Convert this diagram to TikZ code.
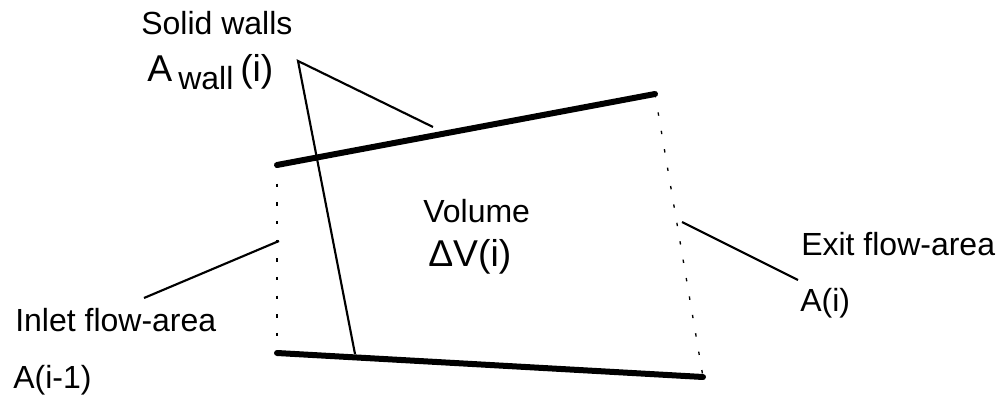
\documentclass[tikz,border=0pt]{standalone}
\usepackage{fontspec}
\setmainfont{Liberation Sans}
\usetikzlibrary{positioning}
\begin{document}
\begin{tikzpicture}[
    x=0.75pt, y=-0.75pt,
    label/.style={anchor=base west, inner sep=0pt, font=\fontsize{24}{28}\selectfont},
    biglabel/.style={label, font=\fontsize{28}{32}\selectfont},
    wall/.style={line width=4.5pt, line cap=round},
    leader/.style={line width=1.6pt},
    opening/.style={line width=1pt, dash pattern=on 2.5pt off 11.5pt}
]
    \useasboundingbox (0,0) rectangle (1002,398);
    % wall and opening corners
    \coordinate (tl) at (277,165);
    \coordinate (tr) at (655,94);
    \coordinate (bl) at (277,353);
    \coordinate (br) at (703,377);
    \coordinate (apex) at (298,61);
    \coordinate (walltop) at (433,127);
    \coordinate (wallbot) at (355,354);
    \coordinate (inletend) at (279,241);
    \coordinate (inletfree) at (144,298);
    \coordinate (exitend) at (682,222);
    \coordinate (exitfree) at (798,280);

    \draw[wall] (tl) -- (tr);
    \draw[wall] (bl) -- (br);
    \draw[opening] (tl) -- (bl);
    \draw[opening] (tr) -- (br);
    \draw[leader] (walltop) -- (apex) -- (wallbot);
    \draw[leader] (inletend) -- (inletfree);
    \draw[leader] (exitend) -- (exitfree);

    \node[label] (solid) at (141,35) {Solid walls};
    \node[biglabel] (awall) at (147,82) {A};
    \node[label] (wallsub) at (178,90) {wall};
    \node[biglabel] (awalli) at (240,82) {(i)};
    \node[label] (volume) at (423,223) {Volume};
    \node[biglabel] (dv) at (428,267) {ΔV(i)};
    \node[label] (inlet) at (15,332) {Inlet flow-area};
    \node[label] (ainlet) at (13,388) {A(i-1)};
    \node[label] (exit) at (801,256) {Exit flow-area};
    \node[label] (aexit) at (800,312) {A(i)};
\end{tikzpicture}
\end{document}
